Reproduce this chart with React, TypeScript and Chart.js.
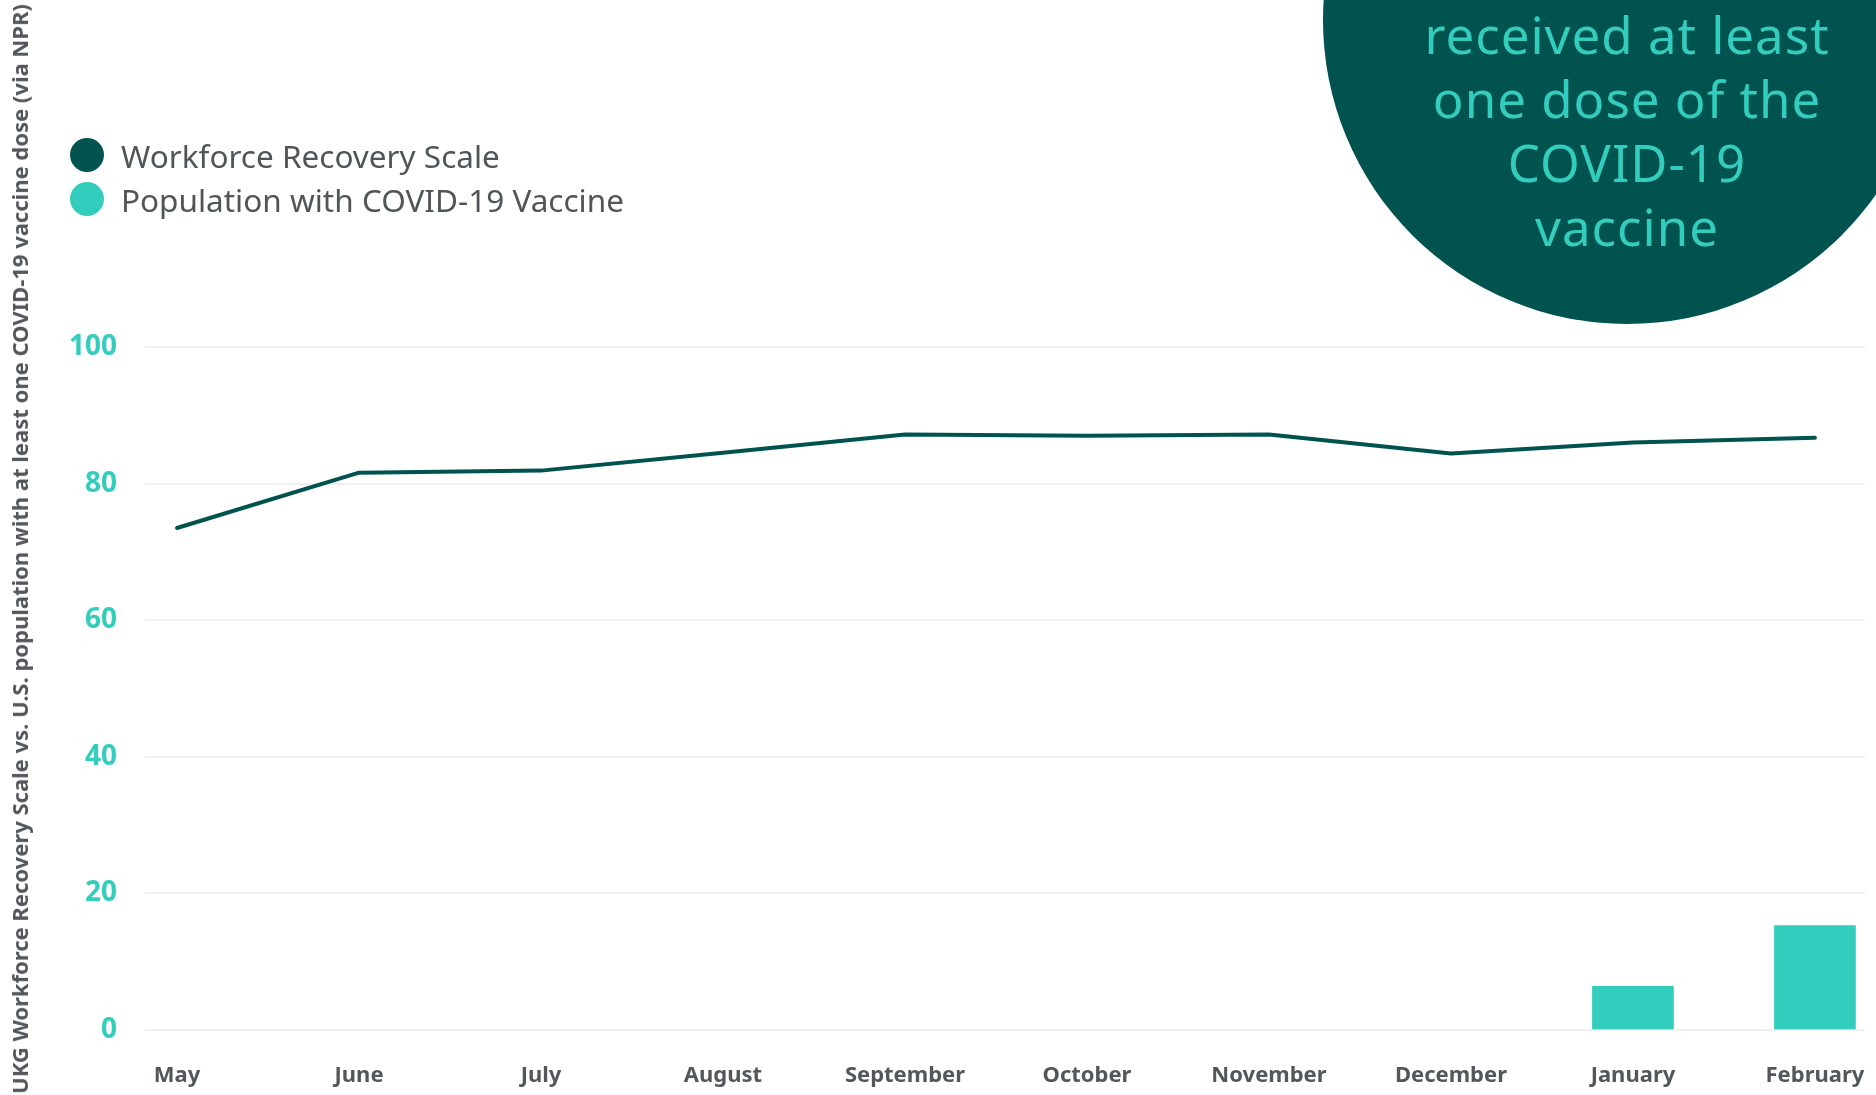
import React, { useEffect, useRef } from 'react';
import { Chart, registerables } from 'chart.js';

Chart.register(...registerables);

const months = ['May', 'June', 'July', 'August', 'September', 'October', 'November', 'December', 'January', 'February'];
const recoveryScale = [73.5, 81.6, 81.9, 84.5, 87.2, 87.0, 87.2, 84.4, 86.0, 86.7];
const vaccinated = [null, null, null, null, null, null, null, null, 6.4, 15.3];
const yTicks = [0, 20, 40, 60, 80, 100];
const seriesLabels = ['Workforce Recovery Scale', 'Population with COVID-19 Vaccine'];
const axisTitle = 'UKG Workforce Recovery Scale vs. U.S. population with at least one COVID-19 vaccine dose (via NPR)';
const calloutLines = ['received at least', 'one dose of the', 'COVID-19', 'vaccine'];

const DARK = '#01534f';
const TEAL = '#33cdbd';
const GRAY = '#53575c';
const FONT = "'Noto Sans', sans-serif";

export default function App() {
  const canvasRef = useRef<HTMLCanvasElement | null>(null);

  useEffect(() => {
    document.body.style.margin = '0';
    const canvas = canvasRef.current;
    if (!canvas) return;
    Chart.defaults.font.family = FONT;
    const chart = new Chart(canvas, {
      type: 'bar',
      data: {
        datasets: [
          {
            type: 'line',
            label: seriesLabels[0],
            data: recoveryScale.map((v, i) => ({ x: i, y: v })),
            borderColor: DARK,
            backgroundColor: DARK,
            borderWidth: 4,
            pointRadius: 0,
            borderCapStyle: 'round',
            borderJoinStyle: 'round',
            tension: 0,
            order: 0,
          } as any,
          {
            type: 'bar',
            label: seriesLabels[1],
            data: vaccinated.map((v, i) => ({ x: i, y: v })),
            backgroundColor: TEAL,
            borderWidth: 0,
            barThickness: 81,
            order: 1,
          } as any,
        ],
      },
      options: {
        animation: false,
        responsive: true,
        maintainAspectRatio: false,
        layout: { padding: { left: 67, right: 11, top: 347, bottom: 0 } },
        plugins: {
          legend: { display: false },
          tooltip: { enabled: false },
        },
        scales: {
          x: {
            type: 'linear',
            offset: false,
            min: -0.176,
            max: 9.275,
            grid: { display: false },
            border: { display: false },
            afterBuildTicks: (scale: any) => {
              scale.ticks = months.map((_, i) => ({ value: i }));
            },
            afterFit: (scale: any) => {
              scale.height = 65;
              scale.paddingLeft = 0;
              scale.paddingRight = 0;
            },
            ticks: {
              padding: 25,
              maxRotation: 0,
              autoSkip: false,
              color: GRAY,
              font: { size: 22, weight: 'bold', family: FONT },
              callback: (value: any) => months[Math.round(Number(value))] ?? '',
            },
          } as any,
          y: {
            min: 0,
            max: 100,
            grid: { color: '#efefef', lineWidth: 2, drawTicks: false },
            border: { display: false },
            afterBuildTicks: (scale: any) => {
              scale.ticks = yTicks.map((v) => ({ value: v }));
            },
            afterFit: (scale: any) => {
              scale.width = 78;
            },
            ticks: {
              padding: 28,
              color: TEAL,
              font: { size: 28, weight: 'bold', family: FONT },
            },
          } as any,
        },
      },
    });
    return () => chart.destroy();
  }, []);

  const legendColors = [DARK, TEAL];

  return (
    <div style={{ position: 'relative', width: 1876, height: 1095, overflow: 'hidden', background: '#ffffff', fontFamily: FONT }}>
      <div style={{ position: 'absolute', left: 0, top: 0, width: 1876, height: 1095 }}>
        <canvas ref={canvasRef} />
      </div>
      <div
        style={{
          position: 'absolute',
          left: 19,
          top: 549,
          transform: 'translate(-50%, -50%) rotate(-90deg)',
          whiteSpace: 'nowrap',
          fontSize: 22,
          fontWeight: 'bold',
          color: GRAY,
          lineHeight: '26px',
        }}
      >
        {axisTitle}
      </div>
      {seriesLabels.map((label, i) => (
        <div
          key={label}
          style={{
            position: 'absolute',
            left: 70,
            top: 138 + i * 44,
            height: 34,
            display: 'flex',
            alignItems: 'center',
            whiteSpace: 'nowrap',
          }}
        >
          <span style={{ width: 34, height: 34, borderRadius: '50%', background: legendColors[i], display: 'inline-block' }} />
          <span style={{ marginLeft: 17, fontSize: 31.5, color: '#50555a' }}>{label}</span>
        </div>
      ))}
      <div
        style={{
          position: 'absolute',
          left: 1323,
          top: -284,
          width: 608,
          height: 608,
          borderRadius: '50%',
          background: DARK,
        }}
      />
      <div
        style={{
          position: 'absolute',
          left: 1323,
          top: 2,
          width: 608,
          textAlign: 'center',
          color: TEAL,
          fontSize: 51,
          letterSpacing: 1,
          lineHeight: '64px',
          whiteSpace: 'nowrap',
        }}
      >
        {calloutLines.map((l) => (
          <div key={l}>{l}</div>
        ))}
      </div>
    </div>
  );
}
